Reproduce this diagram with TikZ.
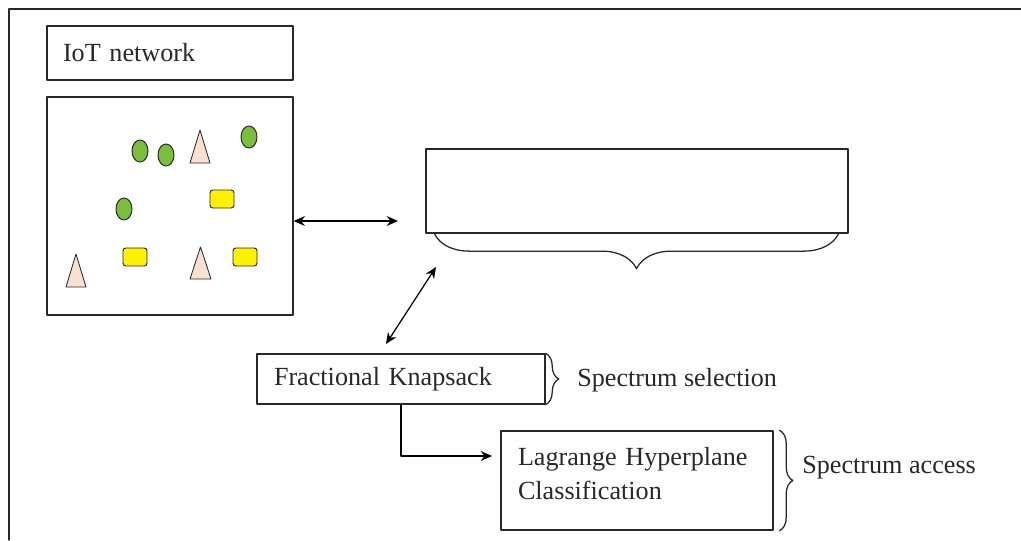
\documentclass[tikz,border=0pt]{standalone}
\usepackage{fontspec}
\setmainfont{Liberation Serif}
\usetikzlibrary{arrows.meta,decorations.pathreplacing}
\definecolor{inkgray}{RGB}{40,40,40}
\definecolor{leafgreen}{RGB}{122,190,60}
\definecolor{skin}{RGB}{250,224,208}

\begin{document}
\begin{tikzpicture}[line cap=round,line join=round,
  box/.style={draw=inkgray,line width=0.9pt,inner sep=0pt},
  txt/.style={font=\fontsize{18.6}{24}\selectfont,text=inkgray},
  note/.style={txt,inner sep=0pt,anchor=west},
  dev/.style={draw=inkgray,line width=0.7pt,fill=leafgreen},
  sensor/.style={draw=inkgray,line width=0.6pt,fill=skin},
  gadget/.style={draw=inkgray,line width=0.7pt,fill=yellow,rounded corners=2pt},
  brc/.style={draw=inkgray,line width=0.9pt,decorate},
  dbl/.style={draw=black,line width=0.9pt,{Stealth[length=8pt,width=7pt]}-{Stealth[length=8pt,width=7pt]}},
  arr/.style={draw=black,line width=0.9pt,-{Stealth[length=8pt,width=7pt]}}]
  \useasboundingbox (0,0) rectangle (25.525,13.5);
  % outer frame, cut at right and bottom
  \draw[draw=inkgray,line width=1pt] (0.225,0) -- (0.225,13.275) -- (25.525,13.275);

  % IoT network
  \node[box,txt,inner xsep=0.4cm,minimum width=6.15cm,minimum height=1.35cm,text width=5.35cm,align=left] (iot) at (4.25,12.175) {IoT network};
  \node[box,minimum width=6.15cm,minimum height=5.45cm] (net) at (4.25,8.35) {};
  \draw[dev] (3.5,9.725) ellipse (0.2 and 0.275);
  \draw[dev] (4.15,9.625) ellipse (0.2 and 0.275);
  \draw[dev] (6.225,10.075) ellipse (0.2 and 0.275);
  \draw[dev] (3.1,8.275) ellipse (0.2 and 0.275);
  \draw[sensor] (4.75,9.425) -- (5.25,9.425) -- (5.0,10.25) -- cycle;
  \draw[sensor] (1.65,6.325) -- (2.15,6.325) -- (1.9,7.15) -- cycle;
  \draw[sensor] (4.75,6.525) -- (5.275,6.525) -- (5.0125,7.325) -- cycle;
  \draw[gadget] (5.25,8.3) rectangle (5.85,8.75);
  \draw[gadget] (3.075,6.85) rectangle (3.675,7.3);
  \draw[gadget] (5.825,6.85) rectangle (6.425,7.3);

  % spectrum band
  \node[box,minimum width=10.55cm,minimum height=2.1cm] (band) at (15.925,8.725) {};
  \draw[brc,decoration={brace,mirror,amplitude=0.875cm}] ([xshift=0.225cm]band.south west) -- ([xshift=-0.25cm]band.south east);

  % steps
  \node[box,txt,inner xsep=0.425cm,minimum width=7.2cm,minimum height=1.25cm,text width=6.35cm,align=left] (fk) at (10.025,4.025) {Fractional Knapsack};
  \node[box,txt,inner xsep=0.425cm,minimum width=6.8cm,minimum height=2.475cm,text width=5.95cm,text depth=1.2cm,align=left] (lag) at (15.925,1.4875) {Lagrange Hyperplane\\Classification};
  \draw[brc,decoration={brace,amplitude=0.33cm}] (fk.north east) -- (fk.south east);
  \draw[brc,decoration={brace,amplitude=0.33cm}] ([xshift=0.15cm]lag.north east) -- ([xshift=0.15cm]lag.south east);
  \node[note] (sel) at (14.425,4.0) {Spectrum selection};
  \node[note] (acc) at (20.05,1.8) {Spectrum access};

  % links
  \coordinate (hA) at (9.95,7.975);
  \coordinate (dA) at (10.9,6.825);
  \coordinate (dB) at (9.65,4.9);
  \coordinate (lA) at (12.3,2.1);
  \draw[dbl] (net.east |- hA) -- (hA);
  \draw[dbl] (dA) -- (dB);
  \draw[arr] (fk.south) |- (lA);
\end{tikzpicture}
\end{document}
